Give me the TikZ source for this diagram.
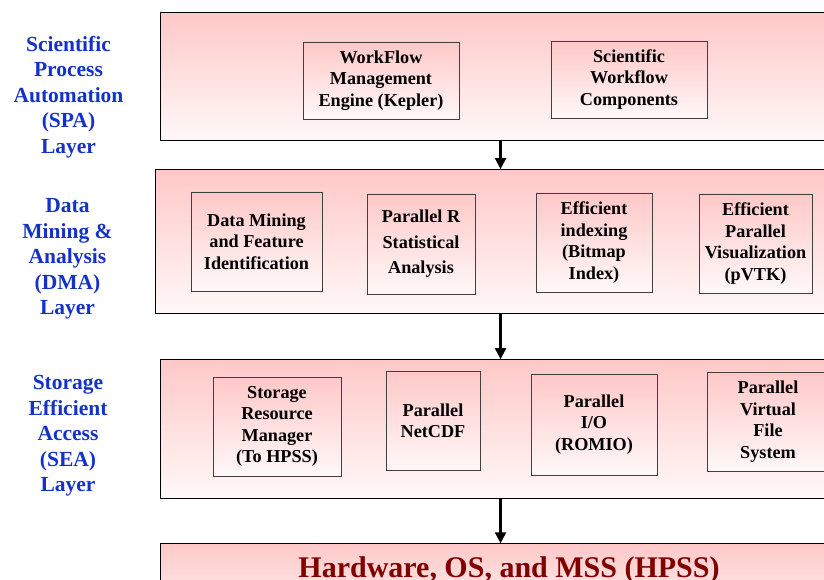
\documentclass[tikz,border=0pt]{standalone}
\usepackage{xcolor}
\usepackage{fontspec}
\setmainfont{Liberation Serif}
\usepackage{tikz}
\usetikzlibrary{arrows.meta, positioning}
\definecolor{layertop}{RGB}{255, 200, 200}
\definecolor{layerbot}{RGB}{255, 248, 248}
\definecolor{layerblue}{RGB}{20, 50, 200}
\definecolor{hwred}{RGB}{128, 0, 0}

\begin{document}
\begin{tikzpicture}[
    x=1pt, y=-1pt,
    layer/.style={draw, line width=1.1pt, top color=layertop, bottom color=layerbot, inner sep=0pt},
    comp/.style={draw=black!75, line width=0.8pt, top color=layertop, bottom color=layerbot, align=center, inner sep=0pt, font=\fontsize{18.2}{21.5}\selectfont\bfseries},
    side/.style={align=center, inner sep=0pt, text=layerblue, font=\fontsize{21.5}{25.5}\selectfont\bfseries},
    arrow/.style={-{Triangle[width=11pt, length=11pt]}, line width=2.2pt}
]
    \useasboundingbox (0,0) rectangle (824,580);
    \clip (0,0) rectangle (824,580);

    % Layers
    \node[layer, anchor=north west, minimum width=680pt, minimum height=128pt] (spa) at (160,12) {};
    \node[layer, below=28pt of spa, minimum width=690pt, minimum height=144pt] (dma) {};
    \node[layer, below=45pt of dma, minimum width=680pt, minimum height=139pt] (sea) {};
    \node[layer, below=44pt of sea, xshift=9pt, minimum width=698pt, minimum height=80pt] (hw) {};

    % Layer names
    \node[side] (spaname) at (68.5,97) {Scientific\\Process\\Automation\\(SPA)\\Layer};
    \node[side] (dmaname) at (67.5,259) {Data\\Mining \&\\Analysis\\(DMA)\\Layer};
    \node[side] (seaname) at (68,436) {Storage\\Efficient\\Access\\(SEA)\\Layer};

    % SPA components
    \node[comp, minimum width=156pt, minimum height=77pt] (kepler) at (381,80.5) {WorkFlow\\Management\\Engine (Kepler)};
    \node[comp, minimum width=156pt, minimum height=77pt] (swc) at (629,79.5) {Scientific\\Workflow\\Components};

    % DMA components
    \node[comp, minimum width=131pt, minimum height=99pt] (mining) at (256.5,241.5) {Data Mining\\and Feature\\Identification};
    \node[comp, minimum width=108pt, minimum height=100pt, font=\fontsize{18.2}{25.5}\selectfont\bfseries] (parr) at (421,244) {Parallel R\\Statistical\\Analysis};
    \node[comp, minimum width=116pt, minimum height=99pt] (bitmap) at (594,242.5) {Efficient\\indexing\\(Bitmap\\Index)};
    \node[comp, minimum width=113pt, minimum height=99pt] (pvtk) at (755.5,243.5) {Efficient\\Parallel\\Visualization\\(pVTK)};

    % SEA components
    \node[comp, minimum width=128pt, minimum height=99pt] (srm) at (277,426.5) {Storage\\Resource\\Manager\\(To HPSS)};
    \node[comp, minimum width=94pt, minimum height=99pt] (netcdf) at (433,421) {Parallel\\NetCDF};
    \node[comp, minimum width=126pt, minimum height=101pt] (romio) at (594,424.5) {Parallel\\I/O\\(ROMIO)};
    \node[comp, minimum width=122pt, minimum height=99pt] (pvfs) at (768,421.5) {Parallel\\Virtual\\File\\System};

    % Hardware
    \node[anchor=base, inner sep=0pt, text=hwred, font=\fontsize{30}{36}\selectfont\bfseries] (hwname) at (509,577) {Hardware, OS, and MSS (HPSS)};

    % Flow between layers
    \draw[arrow] (spa.south) -- (dma.north);
    \draw[arrow] (dma.south) -- (sea.north);
    \draw[arrow] (sea.south) -- (sea.south |- hw.north);
\end{tikzpicture}
\end{document}
